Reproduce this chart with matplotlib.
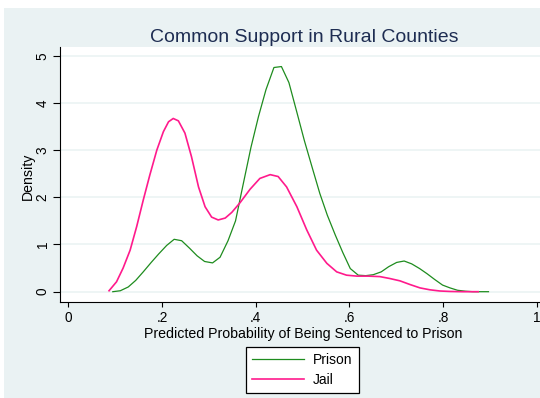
import matplotlib.pyplot as plt
from matplotlib.patches import Rectangle

# Kernel density estimates of predicted probability (rural counties)
prison_x = [0.095, 0.111, 0.128, 0.144, 0.160, 0.177, 0.193, 0.210, 0.226, 0.242,
            0.259, 0.275, 0.291, 0.308, 0.324, 0.341, 0.357, 0.373, 0.390, 0.406,
            0.422, 0.439, 0.455, 0.471, 0.488, 0.504, 0.521, 0.537, 0.553, 0.570,
            0.586, 0.602, 0.619, 0.635, 0.651, 0.668, 0.684, 0.701, 0.717, 0.733,
            0.750, 0.766, 0.782, 0.799, 0.815, 0.831, 0.848, 0.864, 0.880, 0.897]
prison_y = [0.00, 0.02, 0.10, 0.24, 0.42, 0.62, 0.80, 0.98, 1.11, 1.08,
            0.92, 0.76, 0.64, 0.61, 0.73, 1.08, 1.50, 2.26, 3.06, 3.71,
            4.28, 4.75, 4.77, 4.43, 3.80, 3.20, 2.62, 2.08, 1.62, 1.20,
            0.83, 0.49, 0.35, 0.34, 0.36, 0.42, 0.53, 0.62, 0.65, 0.59,
            0.49, 0.38, 0.26, 0.14, 0.08, 0.03, 0.01, 0.00, 0.00, 0.00]

jail_x = [0.087, 0.103, 0.117, 0.132, 0.146, 0.160, 0.174, 0.189, 0.203, 0.214,
          0.224, 0.235, 0.249, 0.263, 0.278, 0.292, 0.306, 0.320, 0.335, 0.349,
          0.367, 0.388, 0.409, 0.431, 0.448, 0.466, 0.488, 0.509, 0.530, 0.552,
          0.573, 0.594, 0.616, 0.640, 0.665, 0.686, 0.708, 0.730, 0.751, 0.772,
          0.793, 0.815, 0.843, 0.875]
jail_y = [0.02, 0.21, 0.50, 0.88, 1.38, 1.94, 2.47, 3.00, 3.39, 3.60,
          3.67, 3.62, 3.36, 2.86, 2.22, 1.80, 1.58, 1.52, 1.56, 1.68,
          1.89, 2.17, 2.40, 2.48, 2.44, 2.22, 1.80, 1.31, 0.88, 0.60,
          0.42, 0.35, 0.33, 0.33, 0.32, 0.28, 0.23, 0.15, 0.08, 0.04,
          0.015, 0.005, 0.0, 0.0]

xticks = [0, 0.2, 0.4, 0.6, 0.8, 1]
xtick_labels = ['0', '.2', '.4', '.6', '.8', '1']
yticks = [0, 1, 2, 3, 4, 5]

bg = '#eaf2f3'
plt.rcParams['font.family'] = ['Liberation Sans', 'DejaVu Sans']

W, H = 540, 398
fig = plt.figure(figsize=(W / 100, H / 100), dpi=100, facecolor='white')
# graph region background with a thin white margin at top/left
fig.patches.append(Rectangle((4 / W, 0), 1 - 4 / W, 1 - 8 / H, transform=fig.transFigure,
                             facecolor=bg, edgecolor='none', zorder=-10))

ax = fig.add_axes([60 / W, 1 - 301.7 / H, 480 / W, (301.7 - 47.3) / H])
ax.set_zorder(1)
ax.set_facecolor('white')
ax.set_xlim(-0.0177, 1.007)
ax.set_ylim(-0.212, 5.178)

for yv in yticks:
    ax.axhline(yv, color=bg, lw=1.1, zorder=1)

ax.plot(prison_x, prison_y, color='#1e8c1e', lw=0.9, label='Prison', zorder=3)
ax.plot(jail_x, jail_y, color='#ff1a8c', lw=1.2, label='Jail', zorder=3)

ax.set_xticks(xticks)
ax.set_xticklabels(xtick_labels)
ax.set_yticks(yticks)
ax.tick_params(axis='x', length=3.3, width=0.8, pad=3.2, labelsize=9.8, colors='black')
ax.tick_params(axis='y', length=5.2, width=0.8, pad=2.2, labelsize=9.8, colors='black')
for lab in ax.get_yticklabels():
    lab.set_rotation(90)
    lab.set_va('center')

for side in ['top', 'right']:
    ax.spines[side].set_visible(False)
for side in ['left', 'bottom']:
    ax.spines[side].set_color('black')
    ax.spines[side].set_linewidth(0.8)

fig.text(304 / W, 1 - 42 / H, 'Common Support in Rural Counties', ha='center',
         va='baseline', fontsize=14, color='#1e2d52')
fig.text(303 / W, 1 - 338 / H, 'Predicted Probability of Being Sentenced to Prison',
         ha='center', va='baseline', fontsize=10.2)
fig.text(27.5 / W, 1 - 176 / H, 'Density', rotation=90, ha='center', va='center',
         fontsize=10.2)

leg = fig.legend(loc='center', bbox_to_anchor=(302.3 / W, 1 - 370 / H), fontsize=10,
                 frameon=True, fancybox=False, handlelength=3.75, handletextpad=0.63,
                 borderpad=0.45, labelspacing=0.39, borderaxespad=0)
leg.get_frame().set_edgecolor('black')
leg.get_frame().set_linewidth(0.9)
leg.get_frame().set_facecolor('white')
leg.get_frame().set_alpha(1)

plt.savefig('out.png', dpi=100)
plt.close()
